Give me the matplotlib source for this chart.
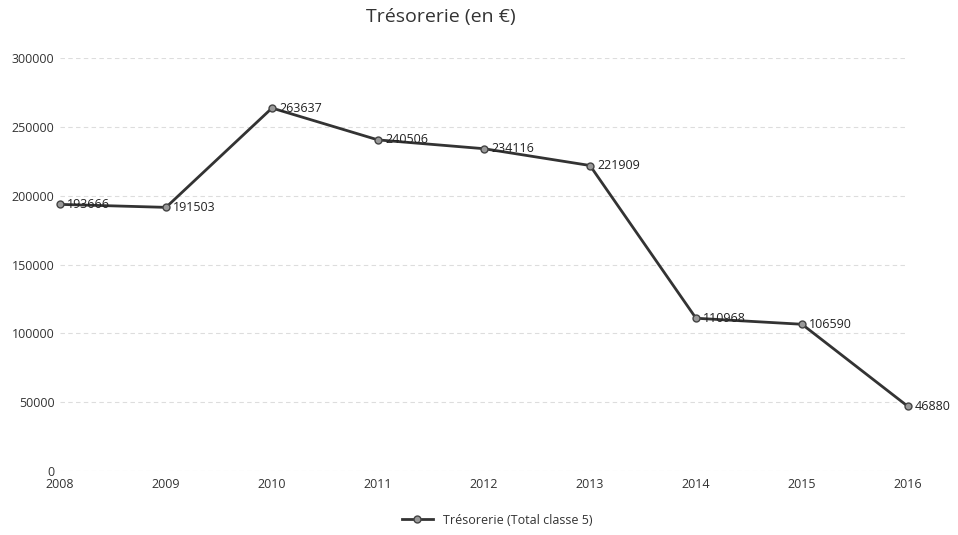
import matplotlib
matplotlib.use("Agg")
import matplotlib.pyplot as plt

plt.rcParams['font.family'] = ['Open Sans', 'DejaVu Sans']

years = ["2008", "2009", "2010", "2011", "2012", "2013", "2014", "2015", "2016"]
tresorerie = [193666, 191503, 263637, 240506, 234116, 221909, 110968, 106590, 46880]
yticks = [0, 50000, 100000, 150000, 200000, 250000, 300000]
series_name = "Trésorerie (Total classe 5)"
title = "Trésorerie (en €)"

fig = plt.figure(figsize=(9.58, 5.35), dpi=100)
ax = fig.add_axes([60/958, 1-471/535, (908-60)/958, (471-58)/535])

x = list(range(len(years)))
ax.plot(x, tresorerie, color='#333333', linewidth=2.0, marker='o', markersize=5,
        markerfacecolor='#999999', markeredgecolor='#444444', clip_on=False, zorder=3,
        label=series_name)
for xi, v in zip(x, tresorerie):
    ax.annotate(str(v), (xi, v), xytext=(5, 0), textcoords='offset points',
                ha='left', va='center', fontsize=9, color='#222222', zorder=4)

ax.set_xlim(0, len(years)-1)
ax.set_ylim(0, 300000)
ax.set_xticks(x)
ax.set_xticklabels(years)
ax.set_yticks(yticks)
ax.set_yticklabels([str(t) for t in yticks])
ax.tick_params(axis='both', length=0, labelsize=9, colors='#333333')
ax.tick_params(axis='x', pad=5)
ax.tick_params(axis='y', pad=4)
for s in ax.spines.values():
    s.set_visible(False)
ax.grid(axis='y', color='#dddddd', linewidth=0.8, linestyle=(0, (4, 3)))
ax.set_axisbelow(True)

fig.text(441/958, 1-17/535, title, ha='center', va='center', fontsize=14, color='#333333')
fig.legend(loc='center', bbox_to_anchor=(497/958, 1-520/535), frameon=False, fontsize=9,
           handlelength=2.5, labelcolor='#333333')

fig.savefig("out.png", dpi=100)
